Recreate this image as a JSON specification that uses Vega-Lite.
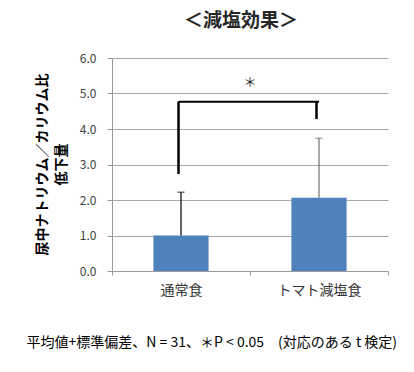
{
  "$schema": "https://vega.github.io/schema/vega-lite/v6.json",
  "width": 276,
  "height": 213,
  "autosize": {"type": "none"},
  "padding": {"left": 112, "top": 58, "right": 26, "bottom": 101},
  "background": "white",
  "config": {
    "view": {"stroke": null},
    "font": "Noto Sans CJK JP",
    "axisY": {
      "titleFontSize": 14,
      "titleFontWeight": "bold",
      "titleColor": "#000000",
      "titleLineHeight": 19,
      "titleAngle": -90,
      "titleBaseline": "top",
      "titleAlign": "center",
      "titleX": -77,
      "titleY": 106,
      "tickCount": 6,
      "labelOverlap": false,
      "format": ".1f",
      "labelFontSize": 12,
      "labelColor": "#404040",
      "labelPadding": 11,
      "tickSize": 5,
      "tickColor": "#9a9a9a",
      "domainColor": "#9a9a9a",
      "gridColor": "#a8a8a8",
      "grid": true
    }
  },
  "title": {
    "text": "＜減塩効果＞",
    "fontSize": 19,
    "fontWeight": "bold",
    "color": "#262626",
    "anchor": "middle",
    "dx": -9,
    "offset": 21,
    "font": "Noto Sans CJK JP"
  },
  "datasets": {
    "bars": [
      {"group": "通常食", "mean": 1.0, "upper": 2.22},
      {"group": "トマト減塩食", "mean": 2.06, "upper": 3.74}
    ],
    "bracketV": [
      {"group": "通常食", "low": 2.73, "high": 4.77},
      {"group": "トマト減塩食", "low": 4.28, "high": 4.77}
    ],
    "bracketH": [
      {"from": "通常食", "to": "トマト減塩食", "level": 4.77}
    ],
    "star": [
      {"group": "通常食", "level": 5.3, "label": "＊"}
    ]
  },
  "encoding": {
    "x": {
      "field": "group",
      "type": "nominal",
      "sort": ["通常食", "トマト減塩食"],
      "scale": {"domain": ["通常食", "トマト減塩食"], "paddingInner": 0, "paddingOuter": 0},
      "axis": {
        "title": "平均値+標準偏差、N = 31、＊P < 0.05　(対応のある t 検定)",
        "titleFontSize": 14,
        "titleFontWeight": "normal",
        "titleColor": "#000000",
        "titleAnchor": "start",
        "titleAlign": "left",
        "titleBaseline": "top",
        "titleX": -86,
        "titleY": 64,
        "labelAngle": 0,
        "labelFontSize": 14,
        "labelColor": "#333333",
        "labelPadding": 8,
        "tickBand": "extent",
        "tickColor": "#9a9a9a",
        "tickSize": 4,
        "domainColor": "#9a9a9a",
        "grid": false
      }
    }
  },
  "layer": [
    {
      "data": {"name": "bars"},
      "mark": {"type": "bar", "color": "#4F81BD", "width": {"band": 0.4}},
      "encoding": {
        "y": {
          "field": "mean",
          "type": "quantitative",
          "scale": {"domain": [0, 6], "nice": false},
          "axis": {"title": ["尿中ナトリウム／カリウム比", "低下量"]}
        }
      }
    },
    {
      "data": {"name": "bars"},
      "mark": {"type": "rule", "strokeWidth": 1.2},
      "encoding": {
        "y": {"field": "mean", "type": "quantitative"},
        "y2": {"field": "upper"},
        "color": {"field": "group", "type": "nominal", "scale": {"domain": ["通常食", "トマト減塩食"], "range": ["#000000", "#707070"]}, "legend": null}
      }
    },
    {
      "data": {"name": "bars"},
      "mark": {"type": "tick", "size": 7, "thickness": 1.2, "orient": "horizontal"},
      "encoding": {
        "y": {"field": "upper", "type": "quantitative"},
        "color": {"field": "group", "type": "nominal", "legend": null}
      }
    },
    {
      "data": {"name": "bracketV"},
      "mark": {"type": "rule", "color": "#000000", "strokeWidth": 2.5, "xOffset": -2.5},
      "encoding": {
        "y": {"field": "low", "type": "quantitative"},
        "y2": {"field": "high"}
      }
    },
    {
      "data": {"name": "bracketH"},
      "mark": {"type": "rule", "color": "#000000", "strokeWidth": 2, "xOffset": -2.5},
      "encoding": {
        "x": {"field": "from", "type": "nominal"},
        "x2": {"field": "to"},
        "y": {"field": "level", "type": "quantitative"}
      }
    },
    {
      "data": {"name": "star"},
      "mark": {"type": "text", "fontSize": 13, "fontWeight": "normal", "fill": "#1a1a1a", "font": "Noto Sans CJK JP"},
      "encoding": {
        "x": {"field": "group", "type": "nominal", "bandPosition": 1},
        "y": {"field": "level", "type": "quantitative"},
        "text": {"field": "label"}
      }
    }
  ]
}
